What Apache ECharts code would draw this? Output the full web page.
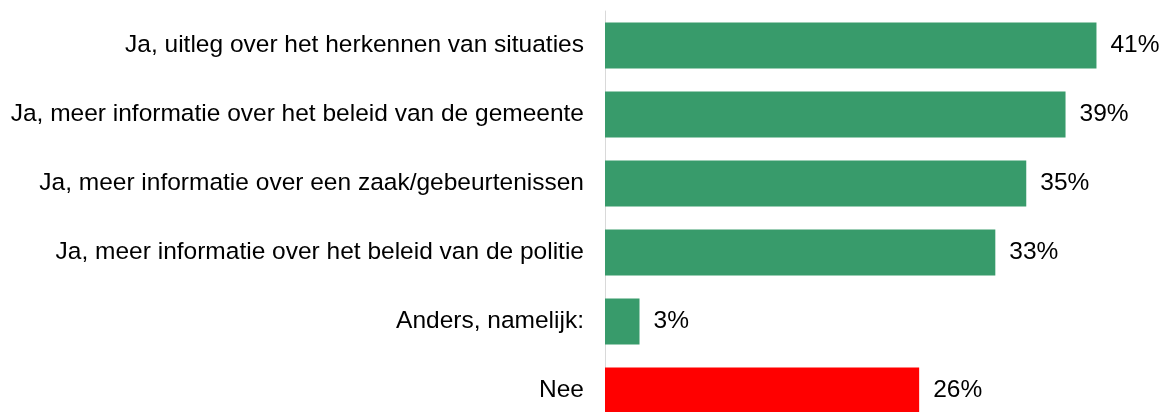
<!DOCTYPE html>
<html>
<head>
<meta charset="utf-8">
<script src="https://cdn.jsdelivr.net/npm/echarts@6/dist/echarts.min.js"></script>
<style>
  html, body { margin: 0; padding: 0; background: #fff; overflow: hidden; }
  /* taller than the window: the last bar is cut off at the bottom edge */
  #chart { width: 1167px; height: 430px; }
</style>
</head>
<body>
<div id="chart"></div>
<script>
// answers, top to bottom
const categories = [
  'Ja, uitleg over het herkennen van situaties',
  'Ja, meer informatie over het beleid van de gemeente',
  'Ja, meer informatie over een zaak/gebeurtenissen',
  'Ja, meer informatie over het beleid van de politie',
  'Anders, namelijk:',
  'Nee'
]
// share of respondents (%)
const shares = [41.3, 38.7, 35.4, 32.8, 2.9, 26.4]
const barColors = ['#389b6b', '#389b6b', '#389b6b', '#389b6b', '#389b6b', '#ff0000']

const chart = echarts.init(document.getElementById('chart'))

chart.setOption({
  backgroundColor: '#fff',
  animation: false,
  // 6 bands of 69px
  grid: { left: 605, top: 11, width: 535.5, height: 414, containLabel: false },
  xAxis: {
    type: 'value', min: 0, max: 45,
    show: false
  },
  yAxis: {
    type: 'category', data: categories, inverse: true,
    axisLine: { show: true, lineStyle: { color: '#d9d9d9', width: 1 } },
    axisTick: { show: false },
    axisLabel: {
      color: '#000', fontSize: 24.5, margin: 21,
      fontFamily: '"Liberation Sans", Arial, sans-serif'
    }
  },
  series: [{
    type: 'bar',
    barWidth: 46,
    data: shares.map((v, i) => ({ value: v, itemStyle: { color: barColors[i] } })),
    label: {
      show: true, position: 'right', distance: 14,
      color: '#000', fontSize: 24.5,
      fontFamily: '"Liberation Sans", Arial, sans-serif',
      formatter: p => Math.round(p.value) + '%'
    }
  }]
})
</script>
</body>
</html>
